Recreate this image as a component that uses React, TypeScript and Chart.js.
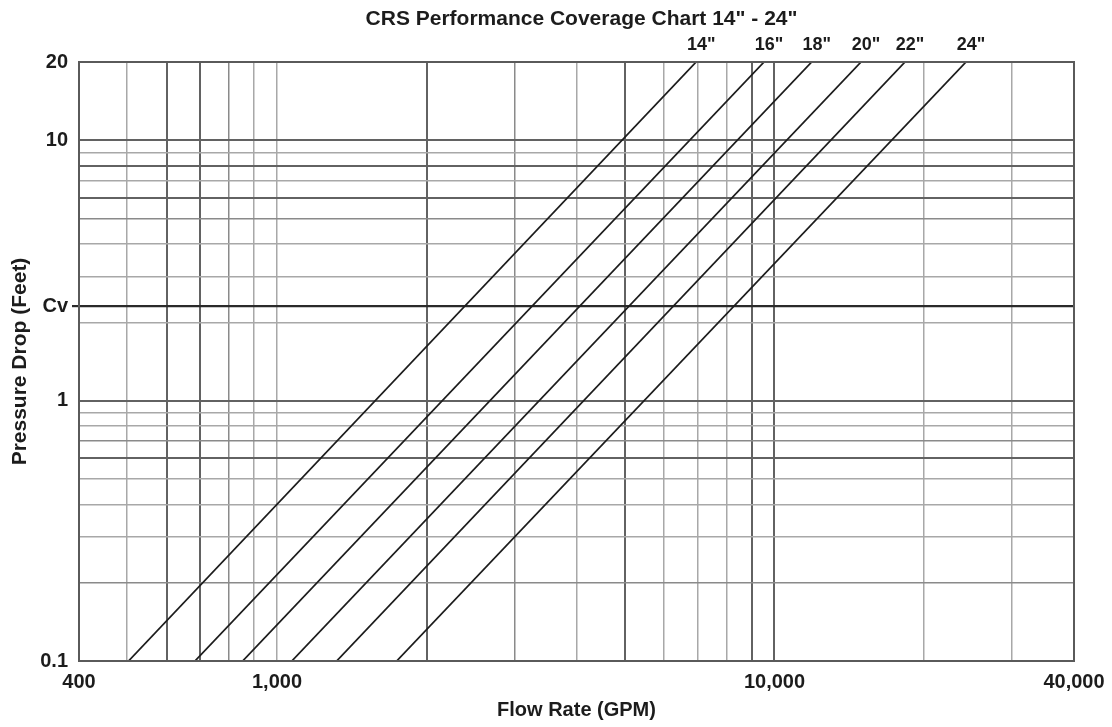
import React, { useEffect, useRef } from "react";
import { Chart, registerables } from "chart.js";

Chart.register(...registerables);

// ---- data ----
const valveSizes = ['14"', '16"', '18"', '20"', '22"', '24"'];
// flow (GPM) where each size line meets 0.1 ft and 20 ft of pressure drop
const flowAtLowDrop = [503, 684, 853, 1071, 1318, 1740];
const flowAtHighDrop = [6960, 9530, 11880, 14930, 18300, 24270];
const dropEnds = [0.1, 20];

const xGridValues = [
  400, 500, 600, 700, 800, 900, 1000, 2000, 3000, 4000, 5000, 6000, 7000, 8000,
  9000, 10000, 20000, 30000, 40000,
];
const xTickText: Record<string, string> = {
  "400": "400",
  "1000": "1,000",
  "10000": "10,000",
  "40000": "40,000",
};
const yGridValues = [
  0.1, 0.2, 0.3, 0.4, 0.5, 0.6, 0.7, 0.8, 0.9, 1, 2, 2.31, 3, 4, 5, 6, 7, 8, 9,
  10, 20,
];
const yTickText: Record<string, string> = {
  "0.1": "0.1",
  "1": "1",
  "2.31": "Cv",
  "10": "10",
  "20": "20",
};

// ---- styling helpers ----
const darkX = [600, 700, 2000, 5000, 9000, 10000];
const mediumX = [800, 3000];
const darkY = [1, 0.6, 6, 8, 10];
const mediumY = [0.2, 0.7, 5];
const CV = 2.31;
const FONT = "'Liberation Sans', Arial, sans-serif";
const INK = "#1c1c1c";

function gridColor(v: number, dark: number[], medium: number[]) {
  if (v === CV) return "#2a2a2a";
  if (dark.includes(v)) return "#626262";
  if (medium.includes(v)) return "#8a8a8a";
  return "#a8a8a8";
}
function gridWidth(v: number, dark: number[]) {
  if (v === CV) return 2.2;
  if (dark.includes(v)) return 2;
  return 1.5;
}

const overlay = {
  id: "overlay",
  afterDatasetsDraw(chart: any) {
    const { ctx, chartArea } = chart;
    const xs = chart.scales.x;
    const ys = chart.scales.y;
    ctx.save();
    // frame
    ctx.strokeStyle = "#5a5a5a";
    ctx.lineWidth = 2;
    ctx.strokeRect(
      chartArea.left,
      chartArea.top,
      chartArea.right - chartArea.left,
      chartArea.bottom - chartArea.top
    );
    // title
    ctx.fillStyle = INK;
    ctx.font = `bold 21px ${FONT}`;
    ctx.textAlign = "center";
    ctx.textBaseline = "middle";
    ctx.fillText(
      'CRS Performance Coverage Chart 14" - 24"',
      (chartArea.left + chartArea.right) / 2 + 5,
      19
    );
    // size labels at line tops
    ctx.font = `bold 18px ${FONT}`;
    valveSizes.forEach((s, i) => {
      const px = xs.getPixelForValue(flowAtHighDrop[i]);
      const py = ys.getPixelForValue(dropEnds[1]);
      ctx.fillText(s, px + 5, py - 17);
    });
    ctx.restore();
  },
};

export default function App() {
  const ref = useRef<HTMLCanvasElement | null>(null);

  useEffect(() => {
    if (!ref.current) return;
    const datasets = valveSizes.map((s, i) => ({
      label: s,
      data: [
        { x: flowAtLowDrop[i], y: dropEnds[0] },
        { x: flowAtHighDrop[i], y: dropEnds[1] },
      ],
      borderColor: INK,
      borderWidth: 1.8,
      pointRadius: 0,
      tension: 0,
      fill: false,
    }));

    const chart = new Chart(ref.current, {
      type: "line",
      data: { datasets },
      plugins: [overlay],
      options: {
        animation: false,
        responsive: true,
        maintainAspectRatio: false,
        layout: { padding: { top: 62, right: 38, left: 0, bottom: 0 } },
        plugins: {
          legend: { display: false },
          tooltip: { enabled: false },
          title: { display: false },
        },
        scales: {
          x: {
            type: "logarithmic",
            min: 400,
            max: 40000,
            afterBuildTicks: (s: any) => {
              s.ticks = xGridValues.map((v) => ({ value: v }));
            },
            afterFit: (s: any) => {
              s.height = 66;
            },
            ticks: {
              autoSkip: false,
              maxRotation: 0,
              minRotation: 0,
              padding: 2,
              color: INK,
              font: { family: FONT, weight: "bold", size: 20 },
              callback: (v: any) => xTickText[String(v)] ?? "",
            },
            grid: {
              color: (c: any) => gridColor(c.tick?.value, darkX, mediumX),
              lineWidth: (c: any) => gridWidth(c.tick?.value, darkX),
              tickLength: 7,
              tickColor: "rgba(0,0,0,0)",
            },
            border: { display: false },
            title: {
              display: true,
              text: "Flow Rate (GPM)",
              color: INK,
              font: { family: FONT, weight: "bold", size: 20 },
              padding: { top: 0, bottom: 5 },
            },
          },
          y: {
            type: "logarithmic",
            min: 0.1,
            max: 20,
            afterBuildTicks: (s: any) => {
              s.ticks = yGridValues.map((v) => ({ value: v }));
            },
            afterFit: (s: any) => {
              s.width = 79;
            },
            ticks: {
              autoSkip: false,
              padding: 4,
              color: INK,
              font: { family: FONT, weight: "bold", size: 20 },
              callback: (v: any) => yTickText[String(v)] ?? "",
            },
            grid: {
              color: (c: any) => gridColor(c.tick?.value, darkY, mediumY),
              lineWidth: (c: any) => gridWidth(c.tick?.value, darkY),
              tickLength: 7,
              tickColor: (c: any) =>
                c.tick?.value === CV ? "#2a2a2a" : "rgba(0,0,0,0)",
            },
            border: { display: false },
            title: {
              display: true,
              text: "Pressure Drop (Feet)",
              color: INK,
              font: { family: FONT, weight: "bold", size: 21 },
              padding: { top: 7.5, bottom: 0 },
            },
          },
        },
      } as any,
    });
    return () => chart.destroy();
  }, []);

  return (
    <div
      style={{
        position: "absolute",
        left: 0,
        top: 0,
        width: 1112,
        height: 727,
        background: "#fff",
      }}
    >
      <canvas ref={ref} />
    </div>
  );
}
